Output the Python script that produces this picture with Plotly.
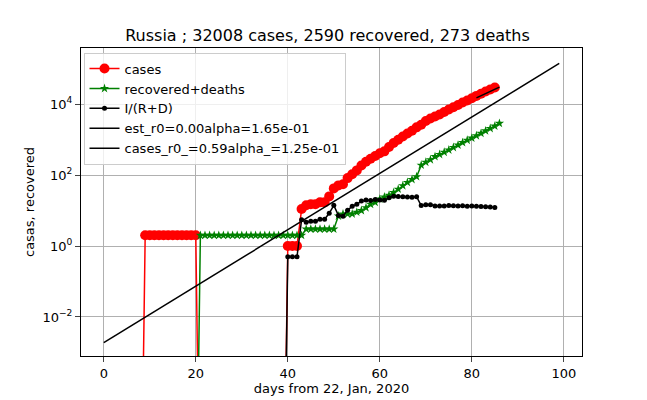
import plotly.graph_objects as go

# days since 22 Jan 2020
days = list(range(0, 87))

# active cases (confirmed - recovered - deaths)
cases = ([0] * 9 + [2] * 12 + [0] * 19 +
         [1, 1, 1, 11, 14, 15, 15, 17, 17, 25, 42, 51, 55, 82, 105, 135, 185, 236, 289, 345,
          413, 465, 620, 802, 991, 1216, 1479, 1771, 2207, 2617, 3348, 3909, 4451, 5059, 5943,
          7017, 8112, 9451, 11117, 12634, 14650, 16998, 19522, 22590, 25638, 29145])

# recovered + deaths
rec_deaths = ([0] * 21 + [2] * 19 +
              [2, 2, 2, 2, 3, 3, 3, 3, 3, 3, 3, 7, 8, 8, 8, 9, 10, 12, 15, 17, 21, 24, 27, 32,
               40, 50, 62, 75, 90, 190, 230, 270, 330, 380, 440, 510, 600, 700, 820, 960, 1100,
               1280, 1500, 1760, 2050, 2400, 2863])

# fitted lines, endpoints
est_x = [0, 99]
est_y = [0.0019, 1.4e5]
fit_x = [81, 86]
fit_y = [15000, 30000]

TINY = 1e-9


def floor0(v):
    return [x if x > 0 else TINY for x in v]


ratio_x, ratio_y = [], []
for d, c, r in zip(days, cases, rec_deaths):
    if r > 0:
        ratio_x.append(d)
        ratio_y.append(c / r if c > 0 else TINY)

fig = go.Figure()
fig.add_trace(go.Scatter(x=days, y=floor0(cases), name="cases", mode="lines+markers",
                         line=dict(color="red", width=1.5), marker=dict(color="red", size=10)))
fig.add_trace(go.Scatter(x=days, y=floor0(rec_deaths), name="recovered+deaths", mode="lines+markers",
                         line=dict(color="green", width=1.5),
                         marker=dict(color="green", size=7, symbol="star")))
fig.add_trace(go.Scatter(x=ratio_x, y=ratio_y, name="I/(R+D)", mode="lines+markers",
                         line=dict(color="black", width=1.5), marker=dict(color="black", size=5)))
fig.add_trace(go.Scatter(x=est_x, y=est_y, name="est_r0=0.00alpha=1.65e-01", mode="lines",
                         line=dict(color="black", width=1.5)))
fig.add_trace(go.Scatter(x=fit_x, y=fit_y, name="cases_r0_=0.59alpha_=1.25e-01", mode="lines",
                         line=dict(color="black", width=1.5)))

# page body has an 8px margin, so the figure is a bit smaller and shifted
fig.update_layout(
    width=639, height=392,
    margin=dict(l=73, r=65, t=40, b=44),
    paper_bgcolor="white", plot_bgcolor="white",
    font=dict(family="DejaVu Sans", size=13, color="black"),
    title=dict(text="Russia ; 32008 cases, 2590 recovered, 273 deaths", x=0.5, xanchor="center",
               y=0.931, yanchor="middle", font=dict(size=16)),
    legend=dict(x=0.005, y=0.985, xanchor="left", yanchor="top", bgcolor="rgba(255,255,255,0.8)",
                bordercolor="#cccccc", borderwidth=1, font=dict(size=13), tracegroupgap=0),
)
fig.update_xaxes(range=[-4.95, 103.95], tickvals=[0, 20, 40, 60, 80, 100], showgrid=True,
                 gridcolor="#b0b0b0", showline=True, linecolor="black", mirror=True,
                 ticks="outside", zeroline=False, automargin=False,
                 title=dict(text="days from 22, Jan, 2020", standoff=4, font=dict(size=13)))
fig.update_yaxes(type="log", range=[-3.1, 5.58], tickvals=[1e-2, 1, 1e2, 1e4],
                 ticktext=["10<sup>−2</sup>", "10<sup>0</sup>", "10<sup>2</sup>", "10<sup>4</sup>"],
                 showgrid=True, gridcolor="#b0b0b0", showline=True, linecolor="black", mirror=True,
                 ticks="outside", zeroline=False, automargin=False,
                 title=dict(text="casas, recovered", standoff=4, font=dict(size=13)))

fig.write_html("out.html")
